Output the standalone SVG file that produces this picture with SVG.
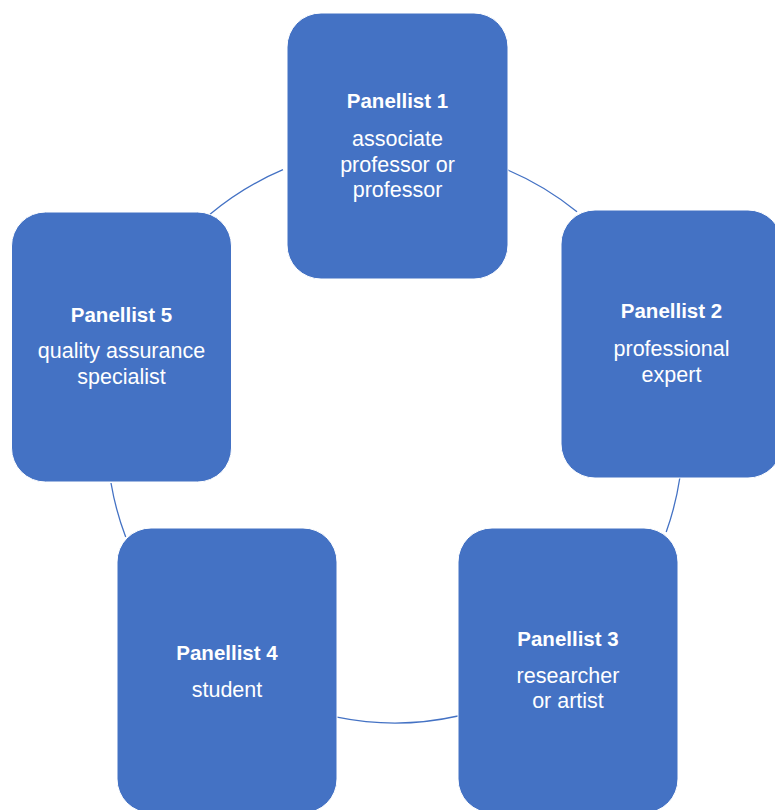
<svg xmlns="http://www.w3.org/2000/svg" width="775" height="810" viewBox="0 0 775 810">
  <style>
    .box { fill: #4472C4; stroke: #ffffff; stroke-width: 1; }
    .arc { fill: none; stroke: #4472C4; stroke-width: 1.3; }
    .t { fill: #ffffff; font-family: "Liberation Sans", Arial, sans-serif; text-anchor: middle; }
    .b { font-weight: bold; font-size: 20.5px; }
    .r { font-size: 21.5px; }
  </style>
  <rect width="775" height="810" fill="#ffffff"/>
  <g id="connectors">
    <path class="arc" d="M 507 169.7 A 288 288 0 0 1 577 211.8"/>
    <path class="arc" d="M 679.8 478 A 288 288 0 0 1 666.2 532"/>
    <path class="arc" d="M 458 716 A 288 288 0 0 1 337 717.1"/>
    <path class="arc" d="M 125.7 537 A 288 288 0 0 1 111 483"/>
    <path class="arc" d="M 210 214.3 A 288 288 0 0 1 283 169.7"/>
  </g>
  <g id="panellist1">
    <rect class="box" x="287" y="13" width="221" height="266" rx="34" ry="34"/>
    <text class="t b" x="397.5" y="108">Panellist 1</text>
    <text class="t r" x="397.5" y="146">associate</text>
    <text class="t r" x="397.5" y="172">professor or</text>
    <text class="t r" x="397.5" y="197">professor</text>
  </g>
  <g id="panellist2">
    <rect class="box" x="561" y="210" width="221" height="268" rx="34" ry="34"/>
    <text class="t b" x="671.5" y="318">Panellist 2</text>
    <text class="t r" x="671.5" y="356">professional</text>
    <text class="t r" x="671.5" y="382">expert</text>
  </g>
  <g id="panellist3">
    <rect class="box" x="458" y="528" width="220" height="285" rx="34" ry="34"/>
    <text class="t b" x="568" y="646">Panellist 3</text>
    <text class="t r" x="568" y="683">researcher</text>
    <text class="t r" x="568" y="708">or artist</text>
  </g>
  <g id="panellist4">
    <rect class="box" x="117" y="528" width="220" height="285" rx="34" ry="34"/>
    <text class="t b" x="227" y="660">Panellist 4</text>
    <text class="t r" x="227" y="697">student</text>
  </g>
  <g id="panellist5">
    <rect class="box" x="11.5" y="212" width="220" height="270" rx="34" ry="34"/>
    <text class="t b" x="121.5" y="322">Panellist 5</text>
    <text class="t r" x="121.5" y="358">quality assurance</text>
    <text class="t r" x="121.5" y="384">specialist</text>
  </g>
</svg>
